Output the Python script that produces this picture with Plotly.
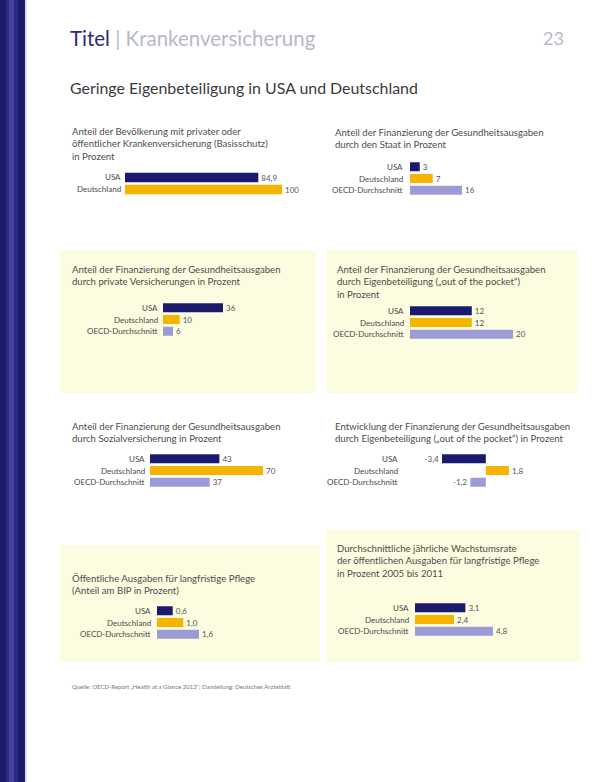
import plotly.graph_objects as go

W, H = 592, 782

# ---------------- data ----------------
cats2 = ["USA", "Deutschland"]
cats3 = ["USA", "Deutschland", "OECD-Durchschnitt"]

versicherte = [84.9, 100]            # Anteil Bevölkerung mit Krankenversicherung
staat = [3, 7, 16]                   # Finanzierung durch den Staat
privat = [36, 10, 6]                 # durch private Versicherungen
eigen = [12, 12, 20]                 # Eigenbeteiligung (out of pocket)
sozial = [43, 70, 37]                # durch Sozialversicherung
eigen_entw = [-3.4, 1.8, -1.2]       # Entwicklung Eigenbeteiligung
pflege_bip = [0.6, 1.0, 1.6]         # öffentliche Ausgaben langfristige Pflege, % BIP
pflege_wachstum = [3.1, 2.4, 4.8]    # jährliche Wachstumsrate 2005-2011

colors = ["#1b1a6c", "#f4b400", "#9d9bd6"]


def fx(px):
    return px / W


def fy(py):
    return 1 - py / H


def fmt(v, dec):
    s = f"{v:.{dec}f}"
    return s.replace(".", ",")


panels = [
    dict(cats=cats2, vals=versicherte, dec=1, dec_int=True, x0=125, x1=282, rng=[0, 100],
         c0=177, sp=13, lab=123, tx=70, ty=124,
         title="Anteil der Bevölkerung mit privater oder<br>öffentlicher Krankenversicherung (Basisschutz)<br>in Prozent"),
    dict(cats=cats3, vals=staat, dec=0, x0=410, x1=462, rng=[0, 16],
         c0=166, sp=12.5, lab=405, tx=333, ty=125,
         title="Anteil der Finanzierung der Gesundheitsausgaben<br>durch den Staat in Prozent"),
    dict(cats=cats3, vals=privat, dec=0, x0=163, x1=223, rng=[0, 36],
         c0=307, sp=12.5, lab=160, tx=70, ty=262,
         title="Anteil der Finanzierung der Gesundheitsausgaben<br>durch private Versicherungen in Prozent"),
    dict(cats=cats3, vals=eigen, dec=0, x0=410, x1=513, rng=[0, 20],
         c0=310, sp=12.5, lab=406, tx=335, ty=262,
         title="Anteil der Finanzierung der Gesundheitsausgaben<br>durch Eigenbeteiligung („out of the pocket“)<br>in Prozent"),
    dict(cats=cats3, vals=sozial, dec=0, x0=150, x1=263, rng=[0, 70],
         c0=458, sp=12.5, lab=147, tx=70, ty=419,
         title="Anteil der Finanzierung der Gesundheitsausgaben<br>durch Sozialversicherung in Prozent"),
    dict(cats=cats3, vals=eigen_entw, dec=1, x0=442, x1=509, rng=[-3.4, 1.8],
         c0=458, sp=12.5, lab=400, tx=333, ty=419,
         title="Entwicklung der Finanzierung der Gesundheitsausgaben<br>durch Eigenbeteiligung („out of the pocket“) in Prozent"),
    dict(cats=cats3, vals=pflege_bip, dec=1, x0=157, x1=199, rng=[0, 1.6],
         c0=610, sp=12.5, lab=153, tx=70, ty=571,
         title="Öffentliche Ausgaben für langfristige Pflege<br>(Anteil am BIP in Prozent)"),
    dict(cats=cats3, vals=pflege_wachstum, dec=1, x0=415, x1=493, rng=[0, 4.8],
         c0=607, sp=12.5, lab=411, tx=335, ty=541,
         title="Durchschnittliche jährliche Wachstumsrate<br>der öffentlichen Ausgaben für langfristige Pflege<br>in Prozent 2005 bis 2011"),
]

fig = go.Figure()
annotations = []
layout_axes = {}

for i, p in enumerate(panels, start=1):
    n = len(p["cats"])
    top = p["c0"] - p["sp"] / 2
    bot = p["c0"] + p["sp"] * (n - 1) + p["sp"] / 2
    if p.get("dec_int"):
        texts = [fmt(v, 0) if float(v).is_integer() else fmt(v, p["dec"]) for v in p["vals"]]
    else:
        texts = [fmt(v, p["dec"]) for v in p["vals"]]
    fig.add_trace(go.Bar(
        orientation="h", x=p["vals"], y=p["cats"],
        xaxis=f"x{i}", yaxis=f"y{i}",
        marker=dict(color=colors[:n], line=dict(width=0)),
        width=0.78, text=texts, textposition="outside", constraintext="none",
        cliponaxis=False, textfont=dict(size=8, color="#555555"),
        hoverinfo="skip", showlegend=False,
    ))
    layout_axes[f"xaxis{i}"] = dict(domain=[fx(p["x0"]), fx(p["x1"])], range=p["rng"],
                                    anchor=f"y{i}", visible=False, fixedrange=True)
    layout_axes[f"yaxis{i}"] = dict(domain=[fy(bot), fy(top)], anchor=f"x{i}",
                                    autorange="reversed", visible=False,
                                    categoryorder="array", categoryarray=p["cats"])
    for k, c in enumerate(p["cats"]):
        annotations.append(dict(xref="paper", yref=f"y{i}", x=fx(p["lab"]), y=k,
                                text=c, showarrow=False, xanchor="right", yanchor="middle",
                                font=dict(size=8, color="#4a4a4a")))
    annotations.append(dict(xref="paper", yref="paper", x=fx(p["tx"]), y=fy(p["ty"]),
                            text=p["title"], showarrow=False, xanchor="left", yanchor="top",
                            align="left", font=dict(size=9.6, color="#4d4d4d")))

# header texts
annotations.append(dict(xref="paper", yref="paper", x=fx(68), y=fy(38),
                        text="<span style='color:#2b2a7c'>Titel</span><span style='color:#b8b8c4'> | Krankenversicherung</span>",
                        showarrow=False, xanchor="left", yanchor="middle",
                        font=dict(size=20.5)))
annotations.append(dict(xref="paper", yref="paper", x=fx(566), y=fy(38), text="23",
                        showarrow=False, xanchor="right", yanchor="middle",
                        font=dict(size=18, color="#b8b8c4")))
annotations.append(dict(xref="paper", yref="paper", x=fx(68), y=fy(88),
                        text="Geringe Eigenbeteiligung in USA und Deutschland",
                        showarrow=False, xanchor="left", yanchor="middle",
                        font=dict(size=15.9, color="#3a3a3a")))
annotations.append(dict(xref="paper", yref="paper", x=fx(70), y=fy(686),
                        text="Quelle: OECD-Report „Health at a Glance 2013“; Darstellung: Deutsches Ärzteblatt",
                        showarrow=False, xanchor="left", yanchor="middle",
                        font=dict(size=6, color="#777777")))

shapes = []
# pale yellow panel backgrounds
for (x0, y0, x1, y1) in [(60, 250, 316, 393), (326, 250, 578, 393),
                         (60, 545, 320, 662), (326, 530, 580, 662)]:
    shapes.append(dict(type="rect", xref="paper", yref="paper",
                       x0=fx(x0), x1=fx(x1), y0=fy(y1), y1=fy(y0),
                       fillcolor="#fbfce0", line=dict(width=0), layer="below"))
# left blue strip
for (x0, x1, col) in [(0, 25, "#1c1a6a"), (6, 18, "#2c2a85"), (9, 14, "#4543a0"), (25, 27, "#dcdcf0")]:
    shapes.append(dict(type="rect", xref="paper", yref="paper",
                       x0=fx(x0), x1=fx(x1), y0=0, y1=1,
                       fillcolor=col, line=dict(width=0), layer="below"))

fig.update_layout(
    width=W, height=H, margin=dict(l=0, r=0, t=0, b=0),
    paper_bgcolor="white", plot_bgcolor="rgba(0,0,0,0)",
    font=dict(family="Lato, Open Sans, sans-serif"),
    annotations=annotations, shapes=shapes, barmode="group",
    **layout_axes,
)

fig.write_html("out.html", config={"displayModeBar": False},
               post_script="document.body.style.margin='0';document.body.style.overflow='hidden';")
